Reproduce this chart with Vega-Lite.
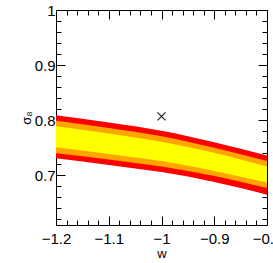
{
  "$schema": "https://vega.github.io/schema/vega-lite/v6.json",
  "width": 211,
  "height": 215,
  "autosize": "none",
  "padding": {"left": 56, "top": 10, "right": 6, "bottom": 38},
  "background": "white",
  "config": {
    "view": {"stroke": null},
    "axis": {
      "grid": false,
      "domainColor": "#000",
      "tickColor": "#000",
      "labelColor": "#000",
      "titleColor": "#000",
      "labelFont": "Liberation Sans",
      "titleFont": "Liberation Sans",
      "labelFontSize": 15,
      "titleFontSize": 13,
      "titleFontWeight": "normal",
      "domainWidth": 1,
      "tickWidth": 1,
      "labelFlush": false,
      "labelOverlap": false
    }
  },
  "datasets": {
    "band": [
      {"w": -1.2, "rt": 0.809, "ot": 0.799, "yt": 0.789, "yb": 0.751, "ob": 0.740, "rb": 0.731},
      {"w": -1.1, "rt": 0.796, "ot": 0.786, "yt": 0.776, "yb": 0.739, "ob": 0.729, "rb": 0.719},
      {"w": -1.0, "rt": 0.781, "ot": 0.771, "yt": 0.761, "yb": 0.726, "ob": 0.716, "rb": 0.706},
      {"w": -0.9, "rt": 0.760, "ot": 0.750, "yt": 0.741, "yb": 0.708, "ob": 0.699, "rb": 0.688},
      {"w": -0.8, "rt": 0.736, "ot": 0.726, "yt": 0.716, "yb": 0.687, "ob": 0.677, "rb": 0.665}
    ],
    "marker": [
      {"w": -1.0, "s8": 0.807}
    ]
  },
  "layer": [
    {
      "data": {"name": "band"},
      "mark": {"type": "area", "color": "#ff0000", "interpolate": "monotone"},
      "encoding": {
        "x": {
          "field": "w", "type": "quantitative",
          "scale": {"domain": [-1.2, -0.8], "nice": false, "zero": false},
          "axis": {"orient": "bottom", "values": [-1.2, -1.1, -1, -0.9, -0.8], "format": "~g", "tickSize": -9, "labelPadding": 15, "title": "w", "titlePadding": 1}
        },
        "y": {
          "field": "rt", "type": "quantitative",
          "scale": {"domain": [0.61, 1], "nice": false, "zero": false},
          "axis": {"orient": "left", "values": [0.7, 0.8, 0.9, 1], "format": "~g", "tickSize": -9, "labelPadding": 10, "title": "σ₈", "titlePadding": 1}
        },
        "y2": {"field": "rb"}
      }
    },
    {
      "data": {"name": "band"},
      "mark": {"type": "area", "color": "#ffa500", "interpolate": "monotone"},
      "encoding": {
        "x": {
          "field": "w", "type": "quantitative",
          "axis": {"orient": "bottom", "values": [-1.18, -1.16, -1.14, -1.12, -1.08, -1.06, -1.04, -1.02, -0.98, -0.96, -0.94, -0.92, -0.88, -0.86, -0.84, -0.82], "labels": false, "domain": false, "tickSize": -5, "title": null}
        },
        "y": {
          "field": "ot", "type": "quantitative",
          "axis": {"orient": "left", "values": [0.62, 0.64, 0.66, 0.68, 0.72, 0.74, 0.76, 0.78, 0.82, 0.84, 0.86, 0.88, 0.92, 0.94, 0.96, 0.98], "labels": false, "domain": false, "tickSize": -5, "title": null}
        },
        "y2": {"field": "ob"}
      }
    },
    {
      "data": {"name": "band"},
      "mark": {"type": "area", "color": "#ffff00", "interpolate": "monotone"},
      "encoding": {
        "x": {
          "field": "w", "type": "quantitative",
          "axis": {"orient": "top", "values": [-1.2, -1.1, -1, -0.9, -0.8], "labels": false, "tickSize": -9, "title": null}
        },
        "y": {
          "field": "yt", "type": "quantitative",
          "axis": {"orient": "right", "values": [0.7, 0.8, 0.9, 1], "labels": false, "tickSize": -9, "title": null}
        },
        "y2": {"field": "yb"}
      }
    },
    {
      "data": {"name": "marker"},
      "mark": {"type": "point", "shape": "M-1,-1L1,1M1,-1L-1,1", "size": 64, "filled": false, "stroke": "#222", "strokeWidth": 1.2, "opacity": 1},
      "encoding": {
        "x": {
          "field": "w", "type": "quantitative",
          "axis": {"orient": "top", "values": [-1.18, -1.16, -1.14, -1.12, -1.08, -1.06, -1.04, -1.02, -0.98, -0.96, -0.94, -0.92, -0.88, -0.86, -0.84, -0.82], "labels": false, "domain": false, "tickSize": -5, "title": null}
        },
        "y": {
          "field": "s8", "type": "quantitative",
          "axis": {"orient": "right", "values": [0.62, 0.64, 0.66, 0.68, 0.72, 0.74, 0.76, 0.78, 0.82, 0.84, 0.86, 0.88, 0.92, 0.94, 0.96, 0.98], "labels": false, "domain": false, "tickSize": -5, "title": null}
        }
      }
    }
  ],
  "resolve": {"axis": {"x": "independent", "y": "independent"}}
}
